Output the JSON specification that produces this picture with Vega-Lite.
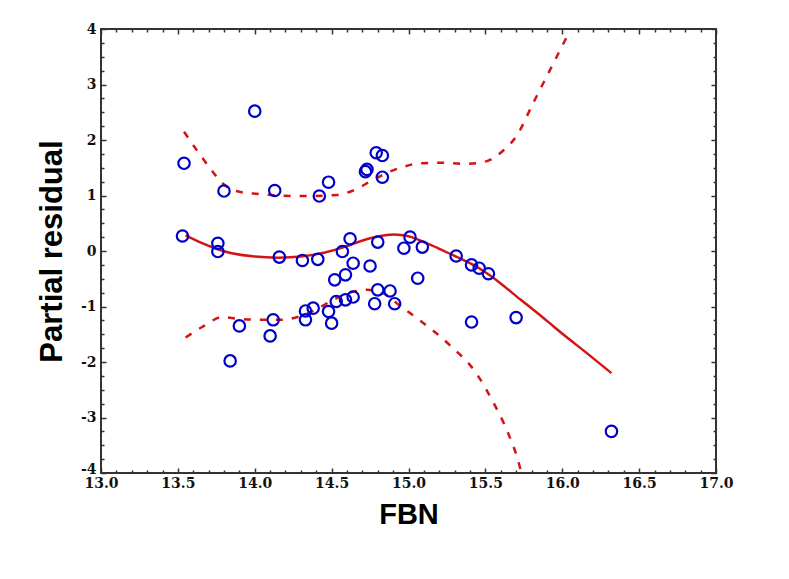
{
  "$schema": "https://vega.github.io/schema/vega-lite/v6.json",
  "autosize": {"type": "none"},
  "padding": {"left": 101, "top": 29, "right": 73, "bottom": 106},
  "width": 615,
  "height": 444,
  "background": "white",
  "config": {
    "view": {"stroke": "#333333", "strokeWidth": 2},
    "axis": {
      "domain": false,
      "grid": false,
      "labelFlush": false,
      "tickColor": "#333333",
      "tickWidth": 1.5,
      "labelFont": "DejaVu Serif",
      "labelFontWeight": "bold",
      "labelFontSize": 14,
      "labelColor": "#111111",
      "titleFont": "Liberation Sans",
      "titleFontWeight": "bold",
      "titleColor": "#000000"
    }
  },
  "datasets": {
    "pts": [
      {"x": 13.54, "y": 1.58}, {"x": 13.53, "y": 0.27}, {"x": 13.76, "y": 0.14}, {"x": 13.76, "y": -0.01},
      {"x": 13.80, "y": 1.08}, {"x": 13.84, "y": -1.98}, {"x": 13.90, "y": -1.35}, {"x": 14.00, "y": 2.52},
      {"x": 14.10, "y": -1.53}, {"x": 14.12, "y": -1.24}, {"x": 14.13, "y": 1.09}, {"x": 14.16, "y": -0.11},
      {"x": 14.31, "y": -0.17}, {"x": 14.33, "y": -1.08}, {"x": 14.33, "y": -1.24}, {"x": 14.38, "y": -1.03},
      {"x": 14.41, "y": -0.15}, {"x": 14.42, "y": 0.99}, {"x": 14.48, "y": 1.24}, {"x": 14.48, "y": -1.09},
      {"x": 14.50, "y": -1.30}, {"x": 14.52, "y": -0.52}, {"x": 14.53, "y": -0.91}, {"x": 14.57, "y": -0.01},
      {"x": 14.59, "y": -0.43}, {"x": 14.59, "y": -0.88}, {"x": 14.62, "y": 0.22}, {"x": 14.64, "y": -0.22},
      {"x": 14.64, "y": -0.83}, {"x": 14.72, "y": 1.43}, {"x": 14.73, "y": 1.47}, {"x": 14.75, "y": -0.27},
      {"x": 14.78, "y": -0.95}, {"x": 14.79, "y": 1.77}, {"x": 14.80, "y": 0.16}, {"x": 14.80, "y": -0.70},
      {"x": 14.83, "y": 1.72}, {"x": 14.83, "y": 1.33}, {"x": 14.88, "y": -0.72}, {"x": 14.91, "y": -0.95},
      {"x": 14.97, "y": 0.05}, {"x": 15.01, "y": 0.25}, {"x": 15.06, "y": -0.49}, {"x": 15.09, "y": 0.07},
      {"x": 15.31, "y": -0.09}, {"x": 15.41, "y": -0.25}, {"x": 15.46, "y": -0.31}, {"x": 15.52, "y": -0.41},
      {"x": 15.41, "y": -1.28}, {"x": 15.70, "y": -1.20}, {"x": 16.32, "y": -3.25}
    ],
    "fit": [
      {"x": 13.55, "y": 0.28}, {"x": 13.65, "y": 0.15}, {"x": 13.75, "y": 0.04}, {"x": 13.85, "y": -0.04},
      {"x": 14.0, "y": -0.10}, {"x": 14.15, "y": -0.12}, {"x": 14.3, "y": -0.10}, {"x": 14.45, "y": -0.03},
      {"x": 14.57, "y": 0.06}, {"x": 14.65, "y": 0.14}, {"x": 14.75, "y": 0.23}, {"x": 14.86, "y": 0.29},
      {"x": 14.95, "y": 0.29}, {"x": 15.02, "y": 0.25}, {"x": 15.1, "y": 0.16}, {"x": 15.2, "y": 0.04},
      {"x": 15.31, "y": -0.10}, {"x": 15.4, "y": -0.22}, {"x": 15.51, "y": -0.40}, {"x": 15.62, "y": -0.63},
      {"x": 15.73, "y": -0.88}, {"x": 15.84, "y": -1.12}, {"x": 15.94, "y": -1.35}, {"x": 16.05, "y": -1.60},
      {"x": 16.16, "y": -1.84}, {"x": 16.32, "y": -2.20}
    ],
    "upper": [
      {"x": 13.54, "y": 2.15}, {"x": 13.71, "y": 1.49}, {"x": 13.79, "y": 1.22}, {"x": 13.88, "y": 1.08},
      {"x": 14.01, "y": 1.03}, {"x": 14.32, "y": 0.99}, {"x": 14.53, "y": 1.01}, {"x": 14.64, "y": 1.09},
      {"x": 14.75, "y": 1.25}, {"x": 14.86, "y": 1.41}, {"x": 14.97, "y": 1.52}, {"x": 15.07, "y": 1.58},
      {"x": 15.20, "y": 1.59}, {"x": 15.38, "y": 1.57}, {"x": 15.51, "y": 1.62}, {"x": 15.62, "y": 1.82},
      {"x": 15.70, "y": 2.06}, {"x": 15.81, "y": 2.66}, {"x": 15.92, "y": 3.26}, {"x": 16.05, "y": 3.97}
    ],
    "lower": [
      {"x": 13.55, "y": -1.56}, {"x": 13.67, "y": -1.35}, {"x": 13.79, "y": -1.19}, {"x": 13.89, "y": -1.22},
      {"x": 14.03, "y": -1.24}, {"x": 14.16, "y": -1.24}, {"x": 14.30, "y": -1.17}, {"x": 14.40, "y": -1.05},
      {"x": 14.51, "y": -0.88}, {"x": 14.63, "y": -0.74}, {"x": 14.73, "y": -0.70}, {"x": 14.84, "y": -0.77},
      {"x": 14.95, "y": -1.00}, {"x": 15.06, "y": -1.22}, {"x": 15.27, "y": -1.70}, {"x": 15.44, "y": -2.20},
      {"x": 15.55, "y": -2.72}, {"x": 15.64, "y": -3.23}, {"x": 15.71, "y": -3.75}, {"x": 15.735, "y": -4.0}
    ]
  },
  "layer": [
    {
      "data": {"name": "upper"},
      "mark": {"type": "line", "color": "#D41414", "strokeWidth": 2.5, "strokeDash": [7, 9], "interpolate": "monotone", "clip": true},
      "encoding": {
        "x": {"field": "x", "type": "quantitative", "scale": {"domain": [13, 17], "nice": false, "zero": false},
          "axis": {"orient": "top", "labels": false, "title": null,
            "values": [13,13.1,13.2,13.3,13.4,13.5,13.6,13.7,13.8,13.9,14,14.1,14.2,14.3,14.4,14.5,14.6,14.7,14.8,14.9,15,15.1,15.2,15.3,15.4,15.5,15.6,15.7,15.8,15.9,16,16.1,16.2,16.3,16.4,16.5,16.6,16.7,16.8,16.9,17],
            "tickSize": {"condition": {"test": "round(datum.value*10) % 5 == 0", "value": -5}, "value": -3}}},
        "y": {"field": "y", "type": "quantitative", "scale": {"domain": [-4, 4], "nice": false, "zero": false},
          "axis": {"orient": "right", "labels": false, "title": null,
            "values": [-4,-3.75,-3.5,-3.25,-3,-2.75,-2.5,-2.25,-2,-1.75,-1.5,-1.25,-1,-0.75,-0.5,-0.25,0,0.25,0.5,0.75,1,1.25,1.5,1.75,2,2.25,2.5,2.75,3,3.25,3.5,3.75,4],
            "tickSize": {"condition": {"test": "datum.value == round(datum.value)", "value": -5}, "value": -3}}}
      }
    },
    {
      "data": {"name": "lower"},
      "mark": {"type": "line", "color": "#D41414", "strokeWidth": 2.5, "strokeDash": [7, 9], "interpolate": "monotone", "clip": true},
      "encoding": {
        "x": {"field": "x", "type": "quantitative", "axis": null},
        "y": {"field": "y", "type": "quantitative", "axis": null}
      }
    },
    {
      "data": {"name": "fit"},
      "mark": {"type": "line", "color": "#D41414", "strokeWidth": 2.5, "interpolate": "natural", "clip": true},
      "encoding": {
        "x": {"field": "x", "type": "quantitative", "axis": null},
        "y": {"field": "y", "type": "quantitative", "axis": null}
      }
    },
    {
      "data": {"name": "pts"},
      "mark": {"type": "point", "shape": "circle", "filled": false, "stroke": "#0000C8", "strokeWidth": 2.2, "size": 130, "opacity": 1},
      "encoding": {
        "x": {"field": "x", "type": "quantitative", "scale": {"domain": [13, 17], "nice": false, "zero": false},
          "axis": {"orient": "bottom", "title": "FBN", "titleFontSize": 29, "titlePadding": 10, "labelPadding": 8,
            "values": [13,13.1,13.2,13.3,13.4,13.5,13.6,13.7,13.8,13.9,14,14.1,14.2,14.3,14.4,14.5,14.6,14.7,14.8,14.9,15,15.1,15.2,15.3,15.4,15.5,15.6,15.7,15.8,15.9,16,16.1,16.2,16.3,16.4,16.5,16.6,16.7,16.8,16.9,17],
            "labelExpr": "round(datum.value*10) % 5 == 0 ? format(datum.value, '.1f') : ''",
            "tickSize": {"condition": {"test": "round(datum.value*10) % 5 == 0", "value": -5}, "value": -3}}},
        "y": {"field": "y", "type": "quantitative", "scale": {"domain": [-4, 4], "nice": false, "zero": false},
          "axis": {"orient": "left", "title": "Partial residual", "titleFontSize": 31, "titlePadding": 12, "labelPadding": 10,
            "values": [-4,-3.75,-3.5,-3.25,-3,-2.75,-2.5,-2.25,-2,-1.75,-1.5,-1.25,-1,-0.75,-0.5,-0.25,0,0.25,0.5,0.75,1,1.25,1.5,1.75,2,2.25,2.5,2.75,3,3.25,3.5,3.75,4],
            "labelExpr": "datum.value == round(datum.value) ? '' + datum.value : ''",
            "labelOffset": {"condition": {"test": "datum.value == -4", "value": -4}, "value": 0},
            "tickSize": {"condition": {"test": "datum.value == round(datum.value)", "value": -5}, "value": -3}}}
      }
    }
  ],
  "resolve": {"axis": {"x": "independent", "y": "independent"}}
}
